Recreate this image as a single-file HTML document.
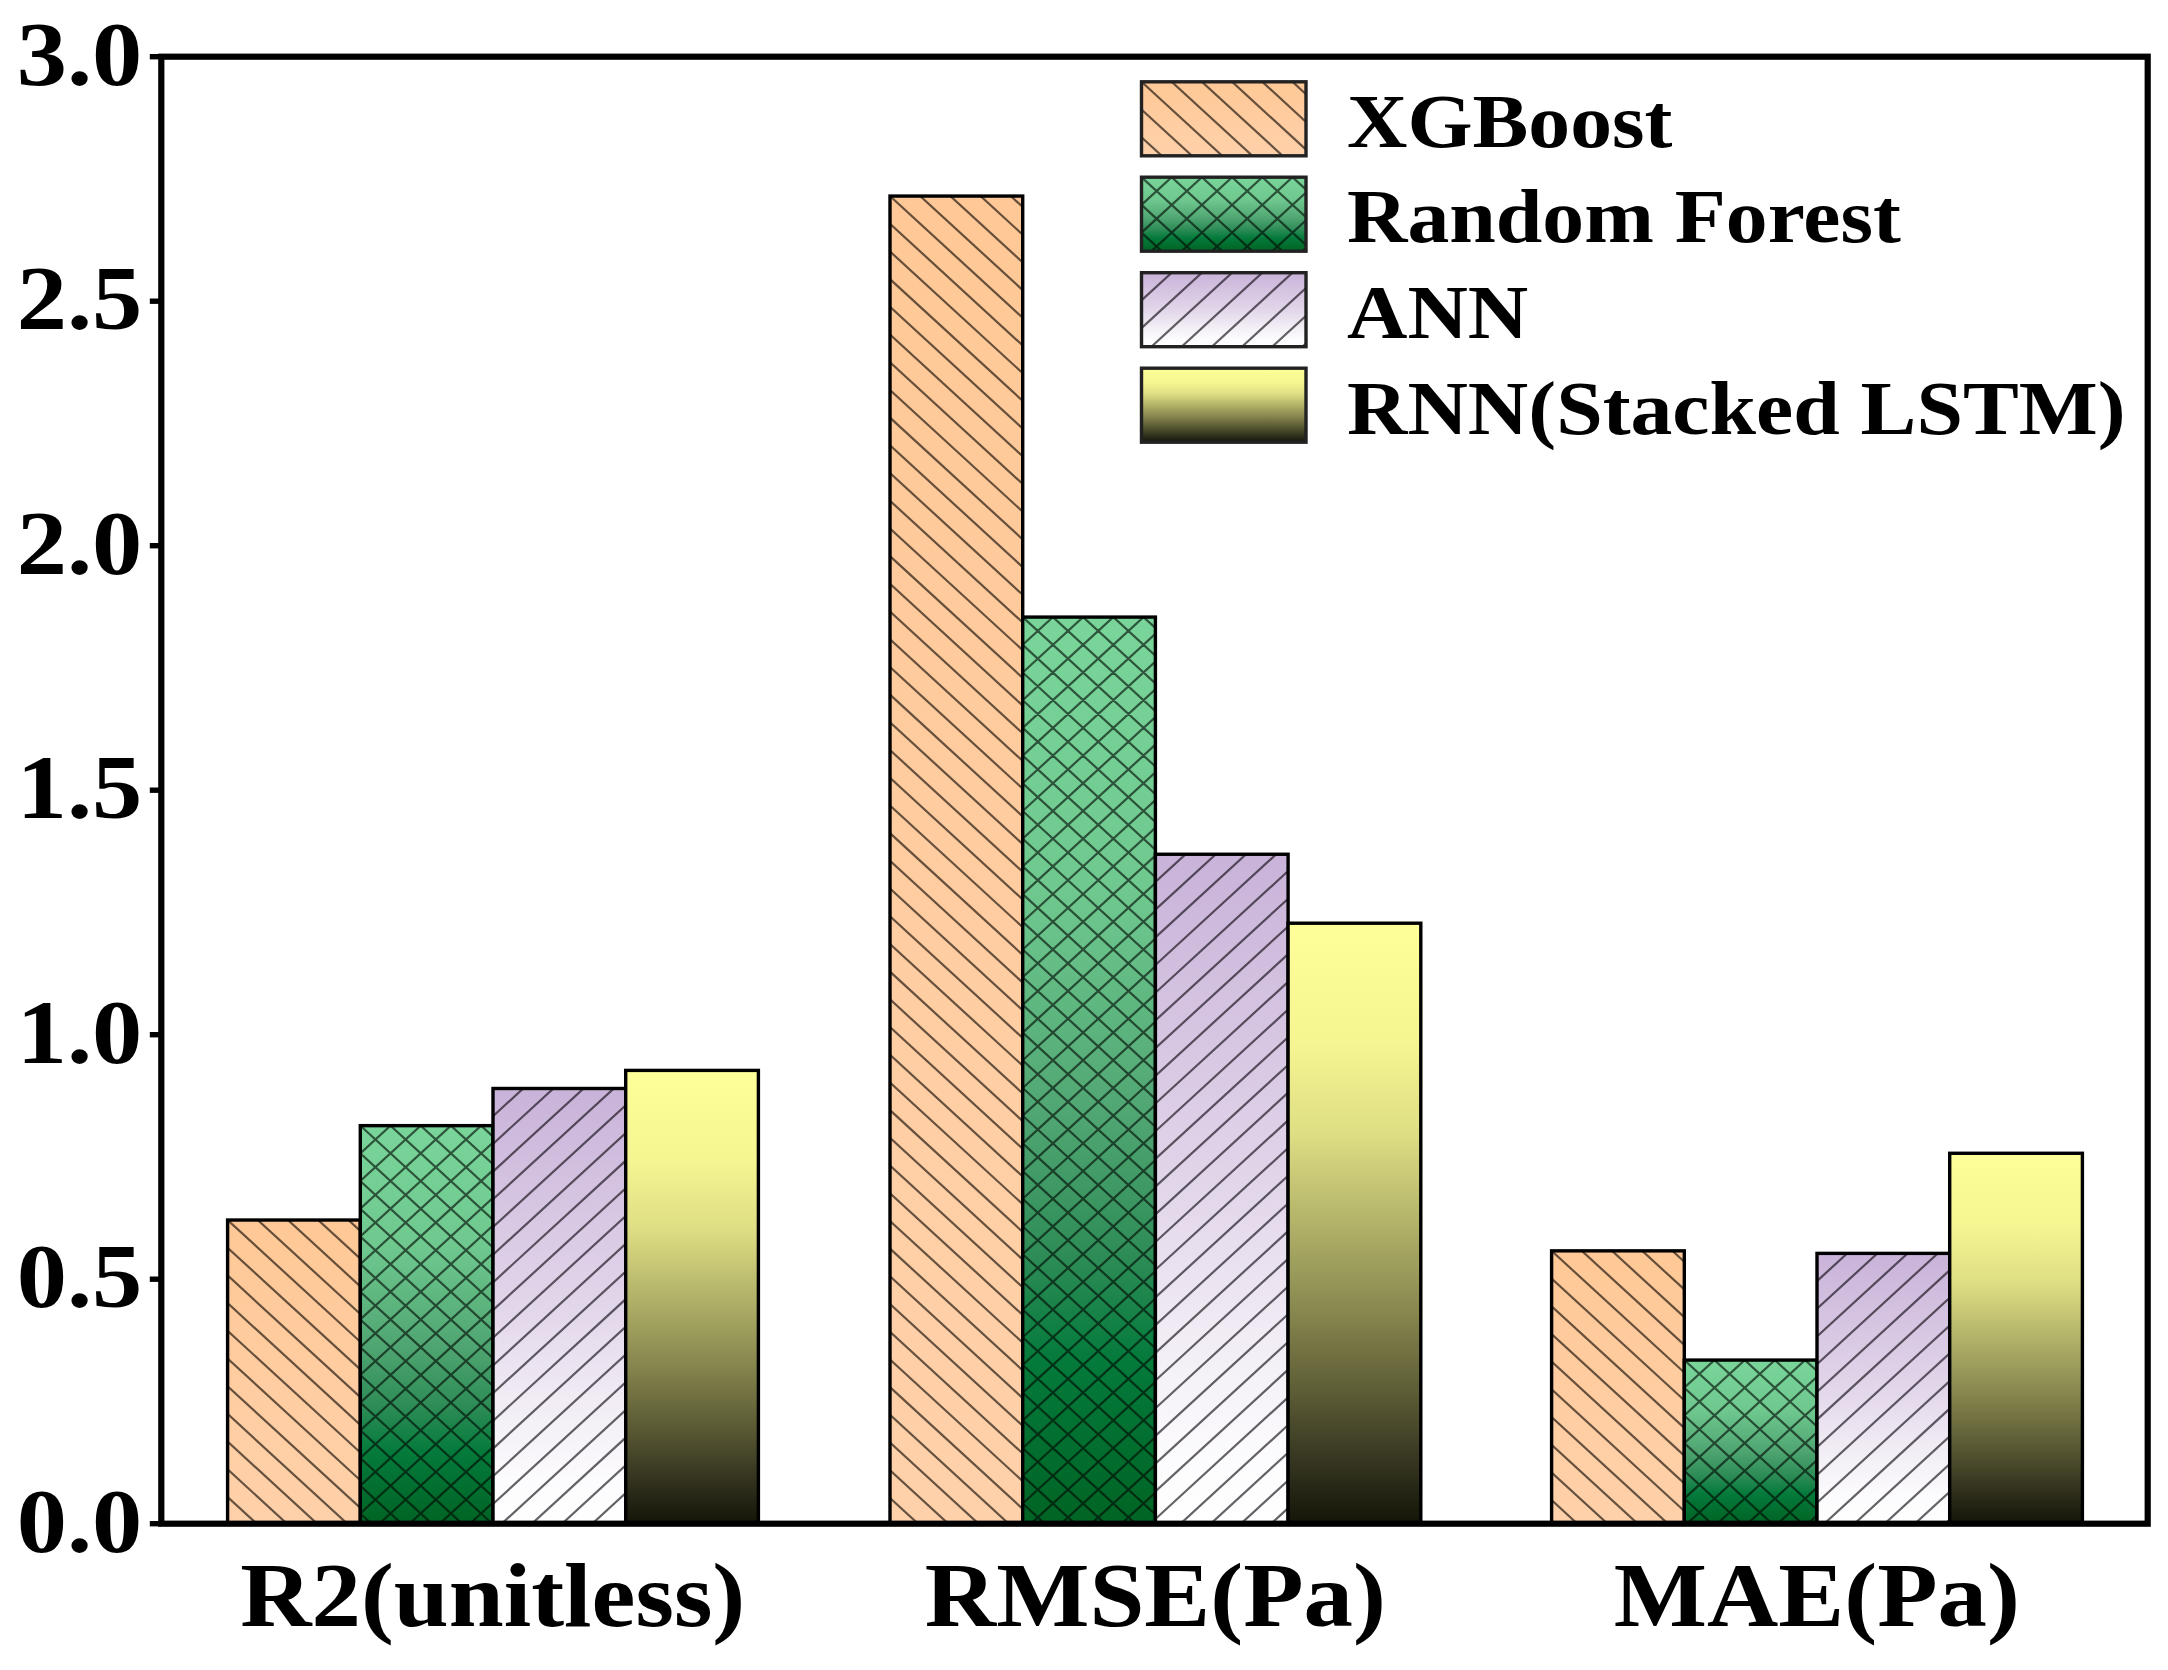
<!DOCTYPE html>
<html lang="en"><head><meta charset="utf-8"><title>Model comparison chart</title>
<style>html,body{margin:0;padding:0;background:#fff;}body{width:2168px;height:1670px;overflow:hidden;}svg{display:block;}text{font-family:"Liberation Serif", "Times New Roman", Times, serif;font-weight:bold;fill:#000;}</style>
</head><body>
<svg width="2168" height="1670" viewBox="0 0 2168 1670" role="img" aria-label="Grouped bar chart comparing XGBoost, Random Forest, ANN and RNN (Stacked LSTM) on R2, RMSE and MAE">
<defs>
<linearGradient id="gO" x1="0" y1="0" x2="0" y2="1"><stop offset="0" stop-color="#ffc896"/><stop offset="1" stop-color="#ffd1aa"/></linearGradient>
<linearGradient id="gG" x1="0" y1="0" x2="0" y2="1"><stop offset="0" stop-color="#79d599"/><stop offset="0.3" stop-color="#6fc98f"/><stop offset="0.55" stop-color="#50a672"/><stop offset="0.7" stop-color="#2f8d57"/><stop offset="0.82" stop-color="#047a3b"/><stop offset="1" stop-color="#006424"/></linearGradient>
<linearGradient id="gP" x1="0" y1="0" x2="0" y2="1"><stop offset="0" stop-color="#c9b3d9"/><stop offset="0.5" stop-color="#e2d6ea"/><stop offset="0.75" stop-color="#f3eff6"/><stop offset="0.9" stop-color="#fcfbfd"/><stop offset="1" stop-color="#ffffff"/></linearGradient>
<linearGradient id="gY" x1="0" y1="0" x2="0" y2="1"><stop offset="0" stop-color="#ffff99"/><stop offset="0.2" stop-color="#f5f591"/><stop offset="0.35" stop-color="#dede84"/><stop offset="0.5" stop-color="#b2b269"/><stop offset="0.65" stop-color="#86864e"/><stop offset="0.8" stop-color="#565632"/><stop offset="0.9" stop-color="#343420"/><stop offset="1" stop-color="#141408"/></linearGradient>
</defs>
<rect x="0" y="0" width="2168" height="1670" fill="#fff"/>
<rect x="227.60" y="1220.03" width="132.70" height="303.67" fill="url(#gO)"/>
<clipPath id="c1"><rect x="227.60" y="1220.03" width="132.70" height="303.67"/></clipPath><g clip-path="url(#c1)" stroke="rgba(10,5,0,0.62)" stroke-width="2.20" fill="none"><path d="M227.60 1109.23L360.30 1230.95M227.60 1136.93L360.30 1258.65M227.60 1164.63L360.30 1286.35M227.60 1192.33L360.30 1314.05M227.60 1220.03L360.30 1341.75M227.60 1247.73L360.30 1369.45M227.60 1275.43L360.30 1397.15M227.60 1303.13L360.30 1424.85M227.60 1330.83L360.30 1452.55M227.60 1358.53L360.30 1480.25M227.60 1386.23L360.30 1507.95M227.60 1413.93L360.30 1535.65M227.60 1441.63L360.30 1563.35M227.60 1469.33L360.30 1591.05M227.60 1497.03L360.30 1618.75"/></g>
<rect x="227.60" y="1220.03" width="132.70" height="303.67" fill="none" stroke="#000" stroke-width="3.40"/>
<rect x="360.30" y="1125.65" width="132.70" height="398.05" fill="url(#gG)"/>
<clipPath id="c2"><rect x="360.30" y="1125.65" width="132.70" height="398.05"/></clipPath><g clip-path="url(#c2)" stroke="rgba(0,8,3,0.62)" stroke-width="2.20" fill="none"><path d="M360.30 1014.85L493.00 1136.57M360.30 1042.55L493.00 1164.27M360.30 1070.25L493.00 1191.97M360.30 1097.95L493.00 1219.67M360.30 1125.65L493.00 1247.37M360.30 1153.35L493.00 1275.07M360.30 1181.05L493.00 1302.77M360.30 1208.75L493.00 1330.47M360.30 1236.45L493.00 1358.17M360.30 1264.15L493.00 1385.87M360.30 1291.85L493.00 1413.57M360.30 1319.55L493.00 1441.27M360.30 1347.25L493.00 1468.97M360.30 1374.95L493.00 1496.67M360.30 1402.65L493.00 1524.37M360.30 1430.35L493.00 1552.07M360.30 1458.05L493.00 1579.77M360.30 1485.75L493.00 1607.47M360.30 1513.45L493.00 1635.17M360.30 1125.65L493.00 1003.94M360.30 1153.35L493.00 1031.64M360.30 1181.05L493.00 1059.34M360.30 1208.75L493.00 1087.04M360.30 1236.45L493.00 1114.74M360.30 1264.15L493.00 1142.44M360.30 1291.85L493.00 1170.14M360.30 1319.55L493.00 1197.84M360.30 1347.25L493.00 1225.54M360.30 1374.95L493.00 1253.24M360.30 1402.65L493.00 1280.94M360.30 1430.35L493.00 1308.64M360.30 1458.05L493.00 1336.34M360.30 1485.75L493.00 1364.04M360.30 1513.45L493.00 1391.74M360.30 1541.15L493.00 1419.44M360.30 1568.85L493.00 1447.14M360.30 1596.55L493.00 1474.84M360.30 1624.25L493.00 1502.54"/></g>
<rect x="360.30" y="1125.65" width="132.70" height="398.05" fill="none" stroke="#000" stroke-width="3.40"/>
<rect x="493.00" y="1088.49" width="132.70" height="435.21" fill="url(#gP)"/>
<clipPath id="c3"><rect x="493.00" y="1088.49" width="132.70" height="435.21"/></clipPath><g clip-path="url(#c3)" stroke="rgba(8,3,12,0.62)" stroke-width="2.20" fill="none"><path d="M493.00 1088.49L625.70 966.78M493.00 1116.19L625.70 994.48M493.00 1143.89L625.70 1022.18M493.00 1171.59L625.70 1049.88M493.00 1199.29L625.70 1077.58M493.00 1226.99L625.70 1105.28M493.00 1254.69L625.70 1132.98M493.00 1282.39L625.70 1160.68M493.00 1310.09L625.70 1188.38M493.00 1337.79L625.70 1216.08M493.00 1365.49L625.70 1243.78M493.00 1393.19L625.70 1271.48M493.00 1420.89L625.70 1299.18M493.00 1448.59L625.70 1326.88M493.00 1476.29L625.70 1354.58M493.00 1503.99L625.70 1382.28M493.00 1531.69L625.70 1409.98M493.00 1559.39L625.70 1437.68M493.00 1587.09L625.70 1465.38M493.00 1614.79L625.70 1493.08M493.00 1642.49L625.70 1520.78"/></g>
<rect x="493.00" y="1088.49" width="132.70" height="435.21" fill="none" stroke="#000" stroke-width="3.40"/>
<rect x="625.70" y="1070.40" width="132.70" height="453.30" fill="url(#gY)"/>
<rect x="625.70" y="1070.40" width="132.70" height="453.30" fill="none" stroke="#000" stroke-width="3.40"/>
<rect x="890.00" y="196.07" width="132.70" height="1327.63" fill="url(#gO)"/>
<clipPath id="c4"><rect x="890.00" y="196.07" width="132.70" height="1327.63"/></clipPath><g clip-path="url(#c4)" stroke="rgba(10,5,0,0.62)" stroke-width="2.20" fill="none"><path d="M890.00 85.27L1022.70 206.98M890.00 112.97L1022.70 234.68M890.00 140.67L1022.70 262.38M890.00 168.37L1022.70 290.08M890.00 196.07L1022.70 317.78M890.00 223.77L1022.70 345.48M890.00 251.47L1022.70 373.18M890.00 279.17L1022.70 400.88M890.00 306.87L1022.70 428.58M890.00 334.57L1022.70 456.28M890.00 362.27L1022.70 483.98M890.00 389.97L1022.70 511.68M890.00 417.67L1022.70 539.38M890.00 445.37L1022.70 567.08M890.00 473.07L1022.70 594.78M890.00 500.77L1022.70 622.48M890.00 528.47L1022.70 650.18M890.00 556.16L1022.70 677.88M890.00 583.87L1022.70 705.58M890.00 611.57L1022.70 733.28M890.00 639.27L1022.70 760.98M890.00 666.97L1022.70 788.68M890.00 694.66L1022.70 816.38M890.00 722.37L1022.70 844.08M890.00 750.07L1022.70 871.78M890.00 777.76L1022.70 899.48M890.00 805.47L1022.70 927.18M890.00 833.17L1022.70 954.88M890.00 860.87L1022.70 982.58M890.00 888.57L1022.70 1010.28M890.00 916.26L1022.70 1037.98M890.00 943.97L1022.70 1065.68M890.00 971.67L1022.70 1093.38M890.00 999.37L1022.70 1121.08M890.00 1027.07L1022.70 1148.78M890.00 1054.76L1022.70 1176.48M890.00 1082.47L1022.70 1204.18M890.00 1110.16L1022.70 1231.88M890.00 1137.87L1022.70 1259.58M890.00 1165.57L1022.70 1287.28M890.00 1193.26L1022.70 1314.98M890.00 1220.96L1022.70 1342.68M890.00 1248.66L1022.70 1370.38M890.00 1276.37L1022.70 1398.08M890.00 1304.07L1022.70 1425.78M890.00 1331.77L1022.70 1453.48M890.00 1359.46L1022.70 1481.18M890.00 1387.16L1022.70 1508.88M890.00 1414.87L1022.70 1536.58M890.00 1442.57L1022.70 1564.28M890.00 1470.27L1022.70 1591.98M890.00 1497.96L1022.70 1619.68"/></g>
<rect x="890.00" y="196.07" width="132.70" height="1327.63" fill="none" stroke="#000" stroke-width="3.40"/>
<rect x="1022.70" y="617.09" width="132.70" height="906.61" fill="url(#gG)"/>
<clipPath id="c5"><rect x="1022.70" y="617.09" width="132.70" height="906.61"/></clipPath><g clip-path="url(#c5)" stroke="rgba(0,8,3,0.62)" stroke-width="2.20" fill="none"><path d="M1022.70 506.29L1155.40 628.01M1022.70 533.99L1155.40 655.71M1022.70 561.69L1155.40 683.41M1022.70 589.39L1155.40 711.11M1022.70 617.09L1155.40 738.81M1022.70 644.79L1155.40 766.51M1022.70 672.49L1155.40 794.21M1022.70 700.19L1155.40 821.91M1022.70 727.89L1155.40 849.61M1022.70 755.59L1155.40 877.31M1022.70 783.29L1155.40 905.01M1022.70 810.99L1155.40 932.71M1022.70 838.69L1155.40 960.41M1022.70 866.39L1155.40 988.11M1022.70 894.09L1155.40 1015.81M1022.70 921.79L1155.40 1043.51M1022.70 949.49L1155.40 1071.21M1022.70 977.19L1155.40 1098.91M1022.70 1004.89L1155.40 1126.61M1022.70 1032.59L1155.40 1154.31M1022.70 1060.29L1155.40 1182.01M1022.70 1087.99L1155.40 1209.71M1022.70 1115.69L1155.40 1237.41M1022.70 1143.39L1155.40 1265.11M1022.70 1171.09L1155.40 1292.81M1022.70 1198.79L1155.40 1320.51M1022.70 1226.49L1155.40 1348.21M1022.70 1254.19L1155.40 1375.91M1022.70 1281.89L1155.40 1403.61M1022.70 1309.59L1155.40 1431.31M1022.70 1337.29L1155.40 1459.01M1022.70 1364.99L1155.40 1486.71M1022.70 1392.69L1155.40 1514.41M1022.70 1420.39L1155.40 1542.11M1022.70 1448.09L1155.40 1569.81M1022.70 1475.79L1155.40 1597.51M1022.70 1503.49L1155.40 1625.21M1022.70 617.09L1155.40 495.38M1022.70 644.79L1155.40 523.08M1022.70 672.49L1155.40 550.78M1022.70 700.19L1155.40 578.48M1022.70 727.89L1155.40 606.18M1022.70 755.59L1155.40 633.88M1022.70 783.29L1155.40 661.58M1022.70 810.99L1155.40 689.28M1022.70 838.69L1155.40 716.98M1022.70 866.39L1155.40 744.68M1022.70 894.09L1155.40 772.38M1022.70 921.79L1155.40 800.08M1022.70 949.49L1155.40 827.78M1022.70 977.19L1155.40 855.48M1022.70 1004.89L1155.40 883.18M1022.70 1032.59L1155.40 910.88M1022.70 1060.29L1155.40 938.58M1022.70 1087.99L1155.40 966.28M1022.70 1115.69L1155.40 993.98M1022.70 1143.39L1155.40 1021.68M1022.70 1171.09L1155.40 1049.38M1022.70 1198.79L1155.40 1077.08M1022.70 1226.49L1155.40 1104.78M1022.70 1254.19L1155.40 1132.48M1022.70 1281.89L1155.40 1160.18M1022.70 1309.59L1155.40 1187.88M1022.70 1337.29L1155.40 1215.58M1022.70 1364.99L1155.40 1243.28M1022.70 1392.69L1155.40 1270.98M1022.70 1420.39L1155.40 1298.68M1022.70 1448.09L1155.40 1326.38M1022.70 1475.79L1155.40 1354.08M1022.70 1503.49L1155.40 1381.78M1022.70 1531.19L1155.40 1409.48M1022.70 1558.89L1155.40 1437.18M1022.70 1586.59L1155.40 1464.88M1022.70 1614.29L1155.40 1492.58M1022.70 1641.99L1155.40 1520.28"/></g>
<rect x="1022.70" y="617.09" width="132.70" height="906.61" fill="none" stroke="#000" stroke-width="3.40"/>
<rect x="1155.40" y="854.26" width="132.70" height="669.44" fill="url(#gP)"/>
<clipPath id="c6"><rect x="1155.40" y="854.26" width="132.70" height="669.44"/></clipPath><g clip-path="url(#c6)" stroke="rgba(8,3,12,0.62)" stroke-width="2.20" fill="none"><path d="M1155.40 854.26L1288.10 732.54M1155.40 881.96L1288.10 760.24M1155.40 909.66L1288.10 787.94M1155.40 937.36L1288.10 815.64M1155.40 965.06L1288.10 843.34M1155.40 992.76L1288.10 871.04M1155.40 1020.46L1288.10 898.74M1155.40 1048.16L1288.10 926.44M1155.40 1075.86L1288.10 954.14M1155.40 1103.56L1288.10 981.84M1155.40 1131.26L1288.10 1009.54M1155.40 1158.96L1288.10 1037.24M1155.40 1186.66L1288.10 1064.94M1155.40 1214.36L1288.10 1092.64M1155.40 1242.06L1288.10 1120.34M1155.40 1269.76L1288.10 1148.04M1155.40 1297.46L1288.10 1175.74M1155.40 1325.16L1288.10 1203.44M1155.40 1352.86L1288.10 1231.14M1155.40 1380.56L1288.10 1258.84M1155.40 1408.26L1288.10 1286.54M1155.40 1435.96L1288.10 1314.24M1155.40 1463.66L1288.10 1341.94M1155.40 1491.36L1288.10 1369.64M1155.40 1519.06L1288.10 1397.34M1155.40 1546.76L1288.10 1425.04M1155.40 1574.46L1288.10 1452.74M1155.40 1602.16L1288.10 1480.44M1155.40 1629.86L1288.10 1508.14"/></g>
<rect x="1155.40" y="854.26" width="132.70" height="669.44" fill="none" stroke="#000" stroke-width="3.40"/>
<rect x="1288.10" y="923.21" width="132.70" height="600.49" fill="url(#gY)"/>
<rect x="1288.10" y="923.21" width="132.70" height="600.49" fill="none" stroke="#000" stroke-width="3.40"/>
<rect x="1551.60" y="1250.84" width="132.70" height="272.86" fill="url(#gO)"/>
<clipPath id="c7"><rect x="1551.60" y="1250.84" width="132.70" height="272.86"/></clipPath><g clip-path="url(#c7)" stroke="rgba(10,5,0,0.62)" stroke-width="2.20" fill="none"><path d="M1551.60 1140.04L1684.30 1261.75M1551.60 1167.74L1684.30 1289.45M1551.60 1195.44L1684.30 1317.15M1551.60 1223.14L1684.30 1344.85M1551.60 1250.84L1684.30 1372.55M1551.60 1278.54L1684.30 1400.25M1551.60 1306.24L1684.30 1427.95M1551.60 1333.94L1684.30 1455.65M1551.60 1361.64L1684.30 1483.35M1551.60 1389.34L1684.30 1511.05M1551.60 1417.04L1684.30 1538.75M1551.60 1444.74L1684.30 1566.45M1551.60 1472.44L1684.30 1594.15M1551.60 1500.14L1684.30 1621.85"/></g>
<rect x="1551.60" y="1250.84" width="132.70" height="272.86" fill="none" stroke="#000" stroke-width="3.40"/>
<rect x="1684.30" y="1360.08" width="132.70" height="163.62" fill="url(#gG)"/>
<clipPath id="c8"><rect x="1684.30" y="1360.08" width="132.70" height="163.62"/></clipPath><g clip-path="url(#c8)" stroke="rgba(0,8,3,0.62)" stroke-width="2.20" fill="none"><path d="M1684.30 1249.28L1817.00 1371.00M1684.30 1276.98L1817.00 1398.70M1684.30 1304.68L1817.00 1426.40M1684.30 1332.38L1817.00 1454.10M1684.30 1360.08L1817.00 1481.80M1684.30 1387.78L1817.00 1509.50M1684.30 1415.48L1817.00 1537.20M1684.30 1443.18L1817.00 1564.90M1684.30 1470.88L1817.00 1592.60M1684.30 1498.58L1817.00 1620.30M1684.30 1360.08L1817.00 1238.37M1684.30 1387.78L1817.00 1266.07M1684.30 1415.48L1817.00 1293.77M1684.30 1443.18L1817.00 1321.47M1684.30 1470.88L1817.00 1349.17M1684.30 1498.58L1817.00 1376.87M1684.30 1526.28L1817.00 1404.57M1684.30 1553.98L1817.00 1432.27M1684.30 1581.68L1817.00 1459.97M1684.30 1609.38L1817.00 1487.67M1684.30 1637.08L1817.00 1515.37"/></g>
<rect x="1684.30" y="1360.08" width="132.70" height="163.62" fill="none" stroke="#000" stroke-width="3.40"/>
<rect x="1817.00" y="1253.38" width="132.70" height="270.32" fill="url(#gP)"/>
<clipPath id="c9"><rect x="1817.00" y="1253.38" width="132.70" height="270.32"/></clipPath><g clip-path="url(#c9)" stroke="rgba(8,3,12,0.62)" stroke-width="2.20" fill="none"><path d="M1817.00 1253.38L1949.70 1131.67M1817.00 1281.08L1949.70 1159.37M1817.00 1308.78L1949.70 1187.07M1817.00 1336.48L1949.70 1214.77M1817.00 1364.18L1949.70 1242.47M1817.00 1391.88L1949.70 1270.17M1817.00 1419.58L1949.70 1297.87M1817.00 1447.28L1949.70 1325.57M1817.00 1474.98L1949.70 1353.27M1817.00 1502.68L1949.70 1380.97M1817.00 1530.38L1949.70 1408.67M1817.00 1558.08L1949.70 1436.37M1817.00 1585.78L1949.70 1464.07M1817.00 1613.48L1949.70 1491.77M1817.00 1641.18L1949.70 1519.47"/></g>
<rect x="1817.00" y="1253.38" width="132.70" height="270.32" fill="none" stroke="#000" stroke-width="3.40"/>
<rect x="1949.70" y="1153.28" width="132.70" height="370.42" fill="url(#gY)"/>
<rect x="1949.70" y="1153.28" width="132.70" height="370.42" fill="none" stroke="#000" stroke-width="3.40"/>
<rect x="1141.50" y="81.80" width="164.50" height="74.00" fill="url(#gO)"/>
<clipPath id="c10"><rect x="1141.50" y="81.80" width="164.50" height="74.00"/></clipPath><g clip-path="url(#c10)" stroke="rgba(10,5,0,0.62)" stroke-width="2.20" fill="none"><path d="M1141.50 -56.70L1306.00 94.18M1141.50 -29.00L1306.00 121.88M1141.50 -1.30L1306.00 149.58M1141.50 26.40L1306.00 177.28M1141.50 54.10L1306.00 204.98M1141.50 81.80L1306.00 232.68M1141.50 109.50L1306.00 260.38M1141.50 137.20L1306.00 288.08"/></g>
<rect x="1141.50" y="81.80" width="164.50" height="74.00" fill="none" stroke="#222" stroke-width="3.40"/>
<text transform="translate(1347.00 147.30) scale(1.1010 1)" font-size="76.00">XGBoost</text>
<rect x="1141.50" y="177.20" width="164.50" height="74.00" fill="url(#gG)"/>
<clipPath id="c11"><rect x="1141.50" y="177.20" width="164.50" height="74.00"/></clipPath><g clip-path="url(#c11)" stroke="rgba(0,8,3,0.62)" stroke-width="2.20" fill="none"><path d="M1141.50 38.70L1306.00 189.58M1141.50 66.40L1306.00 217.28M1141.50 94.10L1306.00 244.98M1141.50 121.80L1306.00 272.68M1141.50 149.50L1306.00 300.38M1141.50 177.20L1306.00 328.08M1141.50 204.90L1306.00 355.78M1141.50 232.60L1306.00 383.48M1141.50 177.20L1306.00 26.32M1141.50 204.90L1306.00 54.02M1141.50 232.60L1306.00 81.72M1141.50 260.30L1306.00 109.42M1141.50 288.00L1306.00 137.12M1141.50 315.70L1306.00 164.82M1141.50 343.40L1306.00 192.52M1141.50 371.10L1306.00 220.22M1141.50 398.80L1306.00 247.92"/></g>
<rect x="1141.50" y="177.20" width="164.50" height="74.00" fill="none" stroke="#222" stroke-width="3.40"/>
<text transform="translate(1347.00 242.30) scale(1.1010 1)" font-size="76.00">Random Forest</text>
<rect x="1141.50" y="272.70" width="164.50" height="74.00" fill="url(#gP)"/>
<clipPath id="c12"><rect x="1141.50" y="272.70" width="164.50" height="74.00"/></clipPath><g clip-path="url(#c12)" stroke="rgba(8,3,12,0.62)" stroke-width="2.20" fill="none"><path d="M1141.50 272.70L1306.00 121.82M1141.50 300.40L1306.00 149.52M1141.50 328.10L1306.00 177.22M1141.50 355.80L1306.00 204.92M1141.50 383.50L1306.00 232.62M1141.50 411.20L1306.00 260.32M1141.50 438.90L1306.00 288.02M1141.50 466.60L1306.00 315.72M1141.50 494.30L1306.00 343.42"/></g>
<rect x="1141.50" y="272.70" width="164.50" height="74.00" fill="none" stroke="#222" stroke-width="3.40"/>
<text transform="translate(1347.00 338.00) scale(1.1010 1)" font-size="76.00">ANN</text>
<rect x="1141.50" y="368.20" width="164.50" height="74.00" fill="url(#gY)"/>
<rect x="1141.50" y="368.20" width="164.50" height="74.00" fill="none" stroke="#222" stroke-width="3.40"/>
<text transform="translate(1347.00 433.50) scale(1.1010 1)" font-size="76.00">RNN(Stacked LSTM)</text>
<rect x="161.30" y="56.70" width="1986.40" height="1467.00" fill="none" stroke="#000" stroke-width="6.20"/>
<line x1="149.80" y1="1523.70" x2="161.30" y2="1523.70" stroke="#000" stroke-width="5.40"/>
<text transform="translate(142.30 1551.70) scale(1.0920 1)" font-size="92.00" text-anchor="end">0.0</text>
<line x1="149.80" y1="1279.20" x2="161.30" y2="1279.20" stroke="#000" stroke-width="5.40"/>
<text transform="translate(142.30 1307.20) scale(1.0920 1)" font-size="92.00" text-anchor="end">0.5</text>
<line x1="149.80" y1="1034.70" x2="161.30" y2="1034.70" stroke="#000" stroke-width="5.40"/>
<text transform="translate(142.30 1062.70) scale(1.0920 1)" font-size="92.00" text-anchor="end">1.0</text>
<line x1="149.80" y1="790.20" x2="161.30" y2="790.20" stroke="#000" stroke-width="5.40"/>
<text transform="translate(142.30 818.20) scale(1.0920 1)" font-size="92.00" text-anchor="end">1.5</text>
<line x1="149.80" y1="545.70" x2="161.30" y2="545.70" stroke="#000" stroke-width="5.40"/>
<text transform="translate(142.30 573.70) scale(1.0920 1)" font-size="92.00" text-anchor="end">2.0</text>
<line x1="149.80" y1="301.20" x2="161.30" y2="301.20" stroke="#000" stroke-width="5.40"/>
<text transform="translate(142.30 329.20) scale(1.0920 1)" font-size="92.00" text-anchor="end">2.5</text>
<line x1="149.80" y1="56.70" x2="161.30" y2="56.70" stroke="#000" stroke-width="5.40"/>
<text transform="translate(142.30 84.70) scale(1.0920 1)" font-size="92.00" text-anchor="end">3.0</text>
<text transform="translate(492.70 1626.00) scale(1.0860 1)" font-size="91.00" text-anchor="middle">R2(unitless)</text>
<text transform="translate(1155.30 1626.00) scale(1.0860 1)" font-size="91.00" text-anchor="middle">RMSE(Pa)</text>
<text transform="translate(1816.80 1626.00) scale(1.0860 1)" font-size="91.00" text-anchor="middle">MAE(Pa)</text>
</svg>
</body></html>
